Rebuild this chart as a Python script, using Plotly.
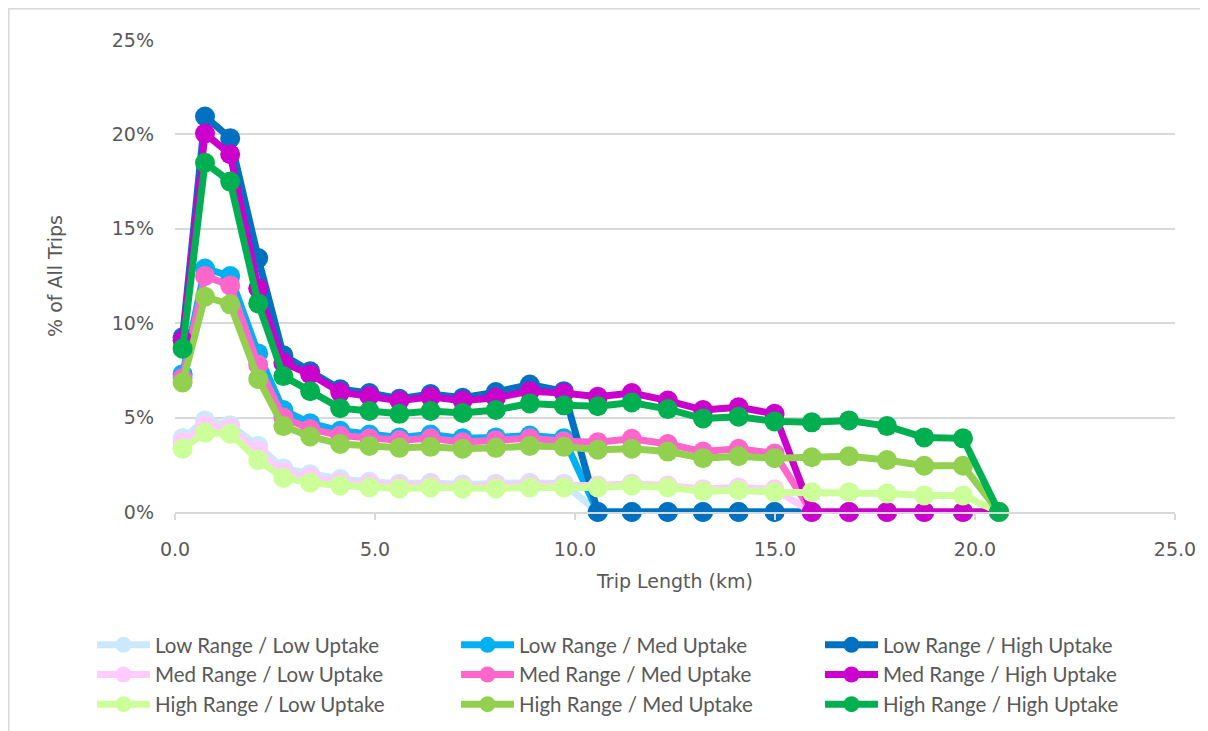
import plotly.graph_objects as go

trip_km = [0.19, 0.75, 1.38, 2.08, 2.71, 3.38, 4.13, 4.86, 5.61, 6.39, 7.19, 8.02, 8.87,
           9.72, 10.57, 11.42, 12.32, 13.20, 14.09, 14.99, 15.92, 16.85, 17.80, 18.73, 19.70, 20.60]

low_low = [3.9, 4.85, 4.6, 3.5, 2.3, 2.0, 1.75, 1.6, 1.5, 1.55, 1.45, 1.5, 1.55, 1.5,
           0, 0, 0, 0, 0, 0, 0, 0, 0, 0, 0, 0]
low_med = [7.3, 12.9, 12.5, 8.4, 5.4, 4.7, 4.3, 4.1, 3.95, 4.1, 3.9, 3.95, 4.05, 3.9,
           0, 0, 0, 0, 0, 0, 0, 0, 0, 0, 0, 0]
low_high = [9.25, 20.95, 19.8, 13.45, 8.3, 7.45, 6.5, 6.3, 6.0, 6.25, 6.05, 6.35, 6.75, 6.4,
            0, 0, 0, 0, 0, 0, 0, 0, 0, 0, 0, 0]
med_low = [3.7, 4.6, 4.45, 3.25, 2.1, 1.85, 1.6, 1.5, 1.4, 1.45, 1.35, 1.4, 1.45, 1.4,
           1.4, 1.5, 1.4, 1.2, 1.3, 1.2, 0, 0, 0, 0, 0, 0]
med_med = [7.1, 12.5, 12.0, 7.8, 5.0, 4.4, 4.05, 3.9, 3.8, 3.9, 3.7, 3.8, 3.9, 3.75,
           3.7, 3.88, 3.6, 3.2, 3.35, 3.1, 0, 0, 0, 0, 0, 0]
med_high = [9.1, 20.05, 18.95, 11.85, 7.9, 7.3, 6.35, 6.15, 5.9, 6.1, 5.9, 6.05, 6.4, 6.3,
            6.1, 6.3, 5.9, 5.4, 5.55, 5.2, 0, 0, 0, 0, 0, 0]
high_low = [3.35, 4.2, 4.15, 2.75, 1.8, 1.55, 1.4, 1.3, 1.25, 1.3, 1.25, 1.25, 1.3, 1.3,
            1.3, 1.4, 1.3, 1.1, 1.15, 1.05, 1.05, 1.05, 0.98, 0.88, 0.88, 0]
high_med = [6.86, 11.4, 11.0, 7.05, 4.55, 4.0, 3.6, 3.5, 3.4, 3.45, 3.35, 3.4, 3.5, 3.45,
            3.3, 3.35, 3.2, 2.85, 2.95, 2.85, 2.9, 2.95, 2.75, 2.45, 2.45, 0]
high_high = [8.65, 18.5, 17.5, 11.05, 7.2, 6.4, 5.5, 5.35, 5.2, 5.35, 5.25, 5.4, 5.75, 5.65,
             5.6, 5.8, 5.45, 4.95, 5.05, 4.8, 4.75, 4.85, 4.55, 3.95, 3.9, 0]

series_names = ["Low Range / Low Uptake", "Low Range / Med Uptake", "Low Range / High Uptake",
                "Med Range / Low Uptake", "Med Range / Med Uptake", "Med Range / High Uptake",
                "High Range / Low Uptake", "High Range / Med Uptake", "High Range / High Uptake"]
series_values = [low_low, low_med, low_high, med_low, med_med, med_high, high_low, high_med, high_high]
series_colors = ["#CCE8FC", "#00B0F0", "#0070C0", "#FFCCFF", "#FF66CC", "#CC00CC",
                 "#CCFF99", "#92D050", "#00B050"]

x_ticks = [0, 5, 10, 15, 20, 25]
y_ticks = [0, 5, 10, 15, 20, 25]

fig = go.Figure()
for name, vals, col in zip(series_names, series_values, series_colors):
    fig.add_trace(go.Scatter(
        x=trip_km, y=vals, name=name, mode="lines+markers",
        line=dict(color=col, width=7),
        marker=dict(color=col, size=20),
        cliponaxis=False,
    ))

# page has an 8px body margin
OFF = 8
W, H = 1200, 723
L, R, T, B = 167, 33, 32, 219

def px_x(page_p):
    return (page_p - OFF - L) / (W - L - R)

def px_y(page_p):
    return (H - B - (page_p - OFF)) / (H - T - B)

TXT = "#595959"
fig.update_layout(
    width=W, height=H,
    margin=dict(l=L, r=R, t=T, b=B, autoexpand=False),
    paper_bgcolor="white", plot_bgcolor="white",
    font=dict(family="DejaVu Sans", color=TXT, size=19),
    showlegend=True,
    legend=dict(
        orientation="h", x=px_x(92), xanchor="left", y=px_y(625), yanchor="top",
        entrywidth=296, entrywidthmode="pixels",
        font=dict(family="Lato", size=20.5, color=TXT),
        itemwidth=53, traceorder="normal",
    ),
    xaxis=dict(
        range=[0, 25], tickvals=x_ticks, ticktext=[f"{v:.1f}" for v in x_ticks],
        showgrid=False, zeroline=False,
        showline=True, linecolor="#D9D9D9", linewidth=2,
        ticks="outside", ticklen=6, tickcolor="#D9D9D9", tickwidth=2,
        ticklabelstandoff=13,
        tickfont=dict(family="DejaVu Sans", size=19, color=TXT),
        title=dict(text="Trip Length (km)", font=dict(family="DejaVu Sans", size=19, color=TXT), standoff=16),
    ),
    yaxis=dict(
        range=[0, 25], tickvals=y_ticks, ticktext=[f"{v}%" for v in y_ticks],
        showgrid=True, gridcolor="#D9D9D9", gridwidth=2,
        zeroline=False, showline=False, ticks="",
        ticklabelstandoff=20,
        tickfont=dict(family="DejaVu Sans", size=19, color=TXT),
        title=dict(text="% of All Trips", font=dict(family="DejaVu Sans", size=19, color=TXT), standoff=44),
    ),
    shapes=[dict(type="rect", xref="paper", yref="paper",
                 x0=px_x(OFF + 0.8), x1=px_x(OFF + W - 1), y0=px_y(760), y1=px_y(OFF + 0.8),
                 line=dict(color="#D9D9D9", width=1.5), fillcolor="rgba(0,0,0,0)", layer="below")],
)

fig.write_html("out.html")
